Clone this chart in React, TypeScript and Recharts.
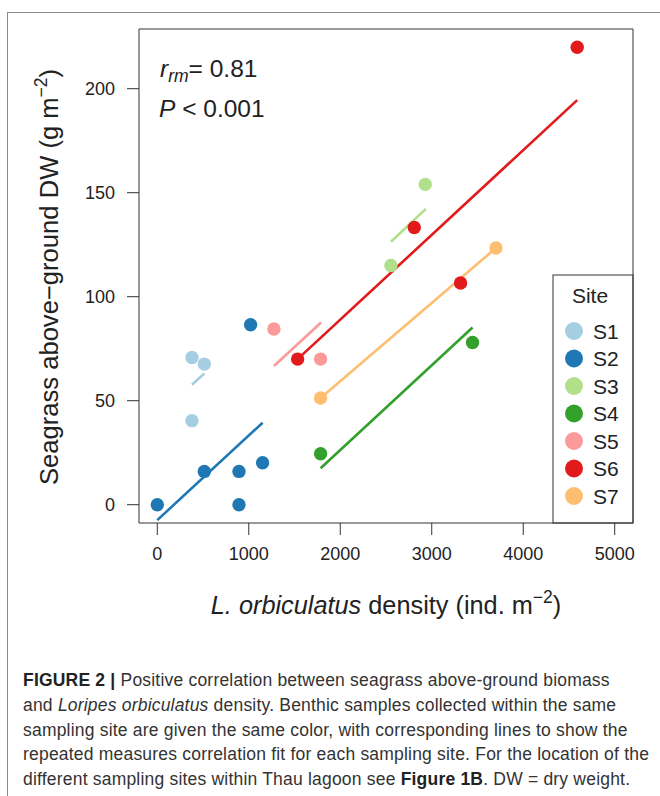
import React from 'react';
import { ScatterChart, Scatter, XAxis, YAxis, ReferenceLine, ReferenceArea, Customized } from 'recharts';

const sites = ['S1', 'S2', 'S3', 'S4', 'S5', 'S6', 'S7'];
const siteColors = ['#a6cee3', '#1f78b4', '#b2df8a', '#33a02c', '#fb9a99', '#e31a1c', '#fdbf6f'];

// L. orbiculatus density (ind. m^-2) and seagrass DW (g m^-2) per site
const s1Density = [379, 514, 379];
const s1Biomass = [70.8, 67.6, 40.4];
const s2Density = [0, 514, 893, 893, 1151, 1020];
const s2Biomass = [0, 16, 16, 0, 20.2, 86.5];
const s3Density = [2554, 2929];
const s3Biomass = [115, 154];
const s4Density = [1785, 3446];
const s4Biomass = [24.5, 78];
const s5Density = [1275, 1785];
const s5Biomass = [84.5, 70];
const s6Density = [1534, 2809, 3315, 4590];
const s6Biomass = [70, 133.3, 106.6, 219.9];
const s7Density = [1785, 3702];
const s7Biomass = [51.3, 123.4];

// repeated measures correlation fit lines (start / end per site)
const fitStartX = [379, 0, 2554, 1785, 1275, 1534, 1785];
const fitStartY = [57.7, -7.4, 126.4, 17.5, 66.7, 70, 51.3];
const fitEndX = [514, 1151, 2935, 3446, 1790, 4590, 3702];
const fitEndY = [63.1, 39.4, 142.2, 85.2, 87.6, 194.5, 123.4];

const xTicks = [0, 1000, 2000, 3000, 4000, 5000];
const yTicks = [0, 50, 100, 150, 200];
const xDomain = [-200, 5200];
const yDomain = [-8.8, 228.7];

const captionLines = [
  ['b:FIGURE 2 |', ' Positive correlation between seagrass above-ground biomass'],
  ['and ', 'i:Loripes orbiculatus', ' density. Benthic samples collected within the same'],
  ['sampling site are given the same color, with corresponding lines to show the'],
  ['repeated measures correlation fit for each sampling site. For the location of the'],
  ['different sampling sites within Thau lagoon see ', 'b:Figure 1B', '. DW = dry weight.'],
];

const densities = [s1Density, s2Density, s3Density, s4Density, s5Density, s6Density, s7Density];
const biomasses = [s1Biomass, s2Biomass, s3Biomass, s4Biomass, s5Biomass, s6Biomass, s7Biomass];
const siteData = sites.map((s, i) => densities[i].map((x, j) => ({ x, y: biomasses[i][j] })));

const FONT = '"Liberation Sans", Arial, Helvetica, sans-serif';
const INK = '#222';

const makeDot = (color: string) => (props: any) => (
  <circle cx={props.cx} cy={props.cy} r={6.7} fill={color} />
);

const XTitle = (props: any) => {
  const vb = props.viewBox || {};
  const cx = vb.x + vb.width / 2;
  return (
    <text x={cx} y={vb.y + 91} textAnchor="middle" fontFamily={FONT} fontSize={25.3} fill={INK}>
      <tspan fontStyle="italic">L. orbiculatus</tspan>
      <tspan> density (ind. m</tspan>
      <tspan dy={-11} fontSize={17.5}>−2</tspan>
      <tspan dy={11}>)</tspan>
    </text>
  );
};

const YTitle = (props: any) => {
  const vb = props.viewBox || {};
  const cy = vb.y + vb.height / 2 + 1;
  const x = 58;
  return (
    <text x={x} y={cy} textAnchor="middle" fontFamily={FONT} fontSize={25.6} fill={INK}
      transform={`rotate(-90, ${x}, ${cy})`}>
      <tspan>Seagrass above−ground DW (g m</tspan>
      <tspan dy={-11} fontSize={17.5}>−2</tspan>
      <tspan dy={11}>)</tspan>
    </text>
  );
};

const Annotation = () => (
  <g fontFamily={FONT} fill={INK}>
    <text x={160} y={77} fontSize={24.5}>
      <tspan fontStyle="italic">r</tspan>
      <tspan fontStyle="italic" fontSize={17.5} dy={5}>rm</tspan>
      <tspan dy={-5}>= 0.81</tspan>
    </text>
    <text x={159} y={117} fontSize={24.5}>
      <tspan fontStyle="italic">P</tspan>
      <tspan> &lt; 0.001</tspan>
    </text>
  </g>
);

const SiteLegend = () => (
  <g fontFamily={FONT} fill={INK}>
    <rect x={553} y={275} width={80} height={248} fill="#fff" stroke="#333" strokeWidth={1} />
    <text x={590} y={303} textAnchor="middle" fontSize={21}>Site</text>
    {sites.map((s, i) => (
      <g key={s}>
        <circle cx={574} cy={331 + i * 27.5} r={9} fill={siteColors[i]} />
        <text x={593} y={331 + i * 27.5 + 7.5} fontSize={21}>{s}</text>
      </g>
    ))}
  </g>
);

export default function App() {
  return (
    <div style={{ position: 'absolute', left: 0, top: 0, width: 660, height: 796, background: '#fff', overflow: 'hidden' }}>
      <div style={{ position: 'absolute', left: 7, top: 12, width: 700, height: 820, borderTop: '1px solid #8a8a8a', borderLeft: '1px solid #8a8a8a' }} />
      <div style={{ position: 'absolute', left: 0, top: 0 }}>
        <ScatterChart width={660} height={660} margin={{ top: 29, right: 27, bottom: 57, left: 59 }}>
          <XAxis
            type="number"
            dataKey="x"
            domain={xDomain}
            ticks={xTicks}
            allowDataOverflow
            axisLine={false}
            tickLine={{ stroke: '#333' }}
            tickSize={12}
            tickMargin={12}
            height={80}
            tick={{ fontSize: 18, fill: INK, fontFamily: FONT }}
            label={<XTitle />}
          />
          <YAxis
            type="number"
            dataKey="y"
            domain={yDomain}
            ticks={yTicks}
            allowDataOverflow
            axisLine={false}
            tickLine={{ stroke: '#333' }}
            tickSize={12}
            tickMargin={12}
            width={80}
            tick={{ fontSize: 18, fill: INK, fontFamily: FONT }}
            label={<YTitle />}
          />
          <ReferenceArea x1={xDomain[0]} x2={xDomain[1]} y1={yDomain[0]} y2={yDomain[1]} fill="none" stroke="#333" strokeWidth={1} ifOverflow="visible" />
          {sites.map((s, i) => (
            <Scatter key={s} name={s} data={siteData[i]} fill={siteColors[i]} shape={makeDot(siteColors[i])} isAnimationActive={false} />
          ))}
          {sites.map((s, i) => (
            <ReferenceLine
              key={'fit' + s}
              segment={[{ x: fitStartX[i], y: fitStartY[i] }, { x: fitEndX[i], y: fitEndY[i] }]}
              stroke={siteColors[i]}
              strokeWidth={2.6}
              ifOverflow="visible"
            />
          ))}
          <Customized component={Annotation} />
          <Customized component={SiteLegend} />
        </ScatterChart>
      </div>
      <div style={{ position: 'absolute', left: 23, top: 668, fontFamily: FONT, fontSize: 17.5, letterSpacing: '0.2px', lineHeight: '24.8px', color: '#333' }}>
        {captionLines.map((line, i) => (
          <div key={i} style={{ whiteSpace: 'nowrap' }}>
            {line.map((part, j) => {
              if (part.startsWith('b:')) return <b key={j} style={{ color: '#222' }}>{part.slice(2)}</b>;
              if (part.startsWith('i:')) return <i key={j}>{part.slice(2)}</i>;
              return <span key={j}>{part}</span>;
            })}
          </div>
        ))}
      </div>
    </div>
  );
}
